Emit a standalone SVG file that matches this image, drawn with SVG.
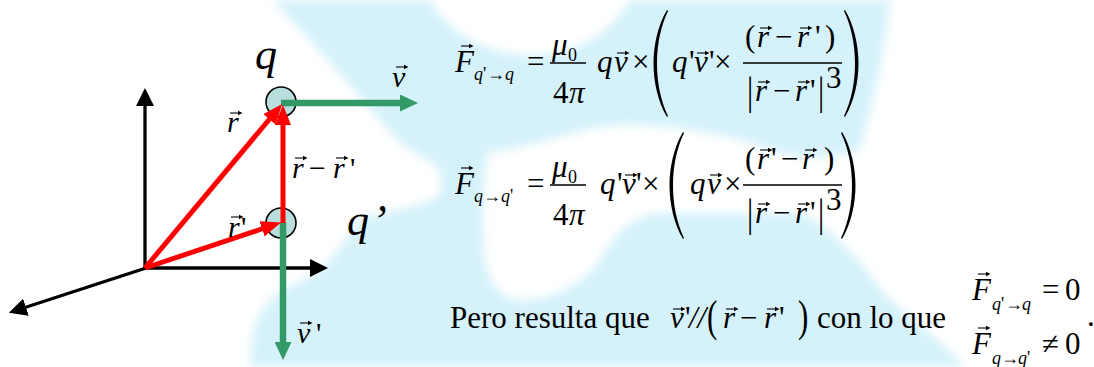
<svg xmlns="http://www.w3.org/2000/svg" width="1094" height="367" viewBox="0 0 1094 367" font-family="Liberation Serif, serif">
<defs>
<style>
.t{font-size:31px;fill:#000}
.i{font-style:italic}
.s{font-size:18px}
.lb{font-size:30px}
.big{font-size:44px}
.ax{stroke:#000;stroke-width:3.3;fill:none}
.rv{stroke:#ff0000;stroke-width:5;fill:none}
.gv{stroke:#339966;stroke-width:6.5;fill:none}
.bar{stroke:#000;stroke-width:1.4}
.chg{fill:#b9dede;stroke:#000;stroke-width:1.6}
.par{fill:#000}
.wm{fill:#d5f2fa}
</style>
<filter id="soft" x="-5%" y="-5%" width="110%" height="110%"><feGaussianBlur stdDeviation="5"/></filter>
<g id="vec"><path d="M0,0H9" stroke="#000" stroke-width="1.1"/><path d="M8,-2.3L12.5,0L8,2.3z" fill="#000"/></g>
<path id="lp" d="M14,0C5,15 0.5,35 0.5,53.5C0.5,72 5,92 14,107L15,106C7.5,90 4,72 4,53.5C4,35 7.5,17 15,1Z"/>
<path id="rp" d="M1,0C10,15 14.5,35 14.5,53.5C14.5,72 10,92 1,107L0,106C7.5,90 11,72 11,53.5C11,35 7.5,17 0,1Z"/>
<marker id="hb" viewBox="0 0 18 18" refX="1" refY="9" markerWidth="18" markerHeight="18" markerUnits="userSpaceOnUse" orient="auto"><path d="M0,0L18,9L0,18z" fill="#000"/></marker>
<marker id="hr" viewBox="0 0 20 16" refX="1" refY="8" markerWidth="20" markerHeight="16" markerUnits="userSpaceOnUse" orient="auto"><path d="M0,0L20,8L0,16z" fill="#ff0000"/></marker>
<marker id="hg" viewBox="0 0 18 17" refX="1" refY="8.5" markerWidth="18" markerHeight="17" markerUnits="userSpaceOnUse" orient="auto"><path d="M0,0L18,8.5L0,17z" fill="#339966"/></marker>
</defs>
<rect width="1094" height="367" fill="#fff"/>
<g id="watermark" filter="url(#soft)">
<path class="wm" d="M272,0L430,0C450,35 490,55 530,55C575,55 610,35 630,0L890,0C885,60 870,110 860,150C830,160 790,158 770,150C720,130 650,122 600,127C560,135 520,150 488,152C482,190 482,230 485,260C490,285 500,298 520,300C560,300 585,280 600,260C615,235 630,215 660,213L800,213C830,225 860,260 885,295C920,325 950,350 965,367L250,367C250,330 255,300 300,282C330,268 345,240 360,218C380,212 420,208 440,195C442,180 440,170 435,165C420,155 410,150 400,143C380,120 330,60 272,0Z"/>
</g>
<g id="connectors">
<line class="ax" x1="145" y1="268" x2="145" y2="105" marker-end="url(#hb)"/>
<line class="ax" x1="143" y1="268" x2="311" y2="268" marker-end="url(#hb)"/>
<line class="ax" x1="146" y1="268" x2="25" y2="307.5" marker-end="url(#hb)"/>
</g>
<g id="charge-q"><circle class="chg" cx="281" cy="102" r="15"/></g>
<g id="charge-qp"><circle class="chg" cx="281" cy="223" r="15"/></g>
<g id="vectors">
<line class="gv" x1="281" y1="103" x2="401" y2="103" marker-end="url(#hg)"/>
<line class="gv" x1="283" y1="222" x2="283" y2="343" marker-end="url(#hg)"/>
<line class="rv" x1="145" y1="268" x2="270" y2="118.5" marker-end="url(#hr)"/>
<line class="rv" x1="145" y1="268" x2="263" y2="228.5" marker-end="url(#hr)"/>
<line class="rv" x1="283" y1="223" x2="283" y2="124" marker-end="url(#hr)"/>
</g>
<g id="labels">
<text class="t i big" x="255" y="69">q</text>
<text class="t i big" x="347" y="235">q<tspan x="372">’</tspan></text>
<text class="t i lb" x="392" y="87">v</text><use href="#vec" x="396" y="67"/>
<text class="t i lb" x="227" y="132">r</text><use href="#vec" x="230" y="113"/>
<text class="t lb" y="178"><tspan class="i" x="292">r</tspan><tspan x="309">−</tspan><tspan class="i" x="333">r</tspan><tspan x="350">'</tspan></text>
<use href="#vec" x="295" y="158"/><use href="#vec" x="336" y="158"/>
<text class="t lb" y="237"><tspan class="i" x="228">r</tspan><tspan x="241">'</tspan></text><use href="#vec" x="231" y="217"/>
<text class="t lb" y="343"><tspan class="i" x="297">v</tspan><tspan x="316">'</tspan></text><use href="#vec" x="300" y="323"/>
</g>
<g id="eq1">
<text class="t i" x="455" y="72">F</text><use href="#vec" x="461" y="46"/>
<text class="t s" y="80"><tspan class="i" x="474">q</tspan><tspan x="483">'</tspan><tspan x="487">→</tspan><tspan class="i" x="505">q</tspan></text>
<text class="t" x="527" y="72">=</text>
<text class="t i" x="552" y="55">μ</text><text class="t s" x="568" y="61">0</text>
<line class="bar" x1="550" y1="63" x2="586" y2="63"/>
<text class="t" x="553" y="103">4</text><text class="t i" x="569" y="103">π</text>
<text class="t i" x="597" y="72">q</text><text class="t i" x="614" y="72">v</text><use href="#vec" x="617" y="53"/><text class="t" x="632" y="72">×</text>
<use href="#lp" class="par" x="653" y="10"/>
<text class="t" y="72"><tspan class="i" x="672">q</tspan><tspan x="689">'</tspan><tspan class="i" x="694">v</tspan><tspan x="709">'</tspan><tspan x="714">×</tspan></text><use href="#vec" x="697" y="53"/>
<line class="bar" x1="743" y1="63" x2="842" y2="63"/>
<text class="t" y="47"><tspan x="745">(</tspan><tspan class="i" x="757">r</tspan><tspan x="775">−</tspan><tspan class="i" x="797">r</tspan><tspan x="815">'</tspan><tspan x="825">)</tspan></text>
<use href="#vec" x="760" y="28"/><use href="#vec" x="800" y="28"/>
<text class="t" transform="translate(747,104) scale(1,1.3)">|</text>
<text class="t" y="101"><tspan class="i" x="755">r</tspan><tspan x="773">−</tspan><tspan class="i" x="795">r</tspan><tspan x="810">'</tspan></text>
<use href="#vec" x="758" y="82"/><use href="#vec" x="798" y="82"/>
<text class="t" transform="translate(818,104) scale(1,1.3)">|</text>
<text class="t" x="826" y="88" font-size="20">3</text>
<use href="#rp" class="par" x="844" y="10"/>
</g>
<g id="eq2">
<text class="t i" x="455" y="194">F</text><use href="#vec" x="461" y="168"/>
<text class="t s" y="202"><tspan class="i" x="474">q</tspan><tspan x="483">→</tspan><tspan class="i" x="501">q</tspan><tspan x="510">'</tspan></text>
<text class="t" x="527" y="194">=</text>
<text class="t i" x="552" y="177">μ</text><text class="t s" x="568" y="183">0</text>
<line class="bar" x1="550" y1="185" x2="586" y2="185"/>
<text class="t" x="553" y="225">4</text><text class="t i" x="569" y="225">π</text>
<text class="t" y="194"><tspan class="i" x="600">q</tspan><tspan x="617">'</tspan><tspan class="i" x="622">v</tspan><tspan x="636">'</tspan><tspan x="642">×</tspan></text><use href="#vec" x="625" y="175"/>
<use href="#lp" class="par" x="669" y="132"/>
<text class="t" y="194"><tspan class="i" x="690">q</tspan><tspan class="i" x="707">v</tspan><tspan x="724">×</tspan></text><use href="#vec" x="710" y="175"/>
<line class="bar" x1="743" y1="185" x2="842" y2="185"/>
<text class="t" y="169"><tspan x="745">(</tspan><tspan class="i" x="757">r</tspan><tspan x="771">'</tspan><tspan x="781">−</tspan><tspan class="i" x="802">r</tspan><tspan x="824">)</tspan></text>
<use href="#vec" x="760" y="150"/><use href="#vec" x="805" y="150"/>
<text class="t" transform="translate(747,226) scale(1,1.3)">|</text>
<text class="t" y="223"><tspan class="i" x="755">r</tspan><tspan x="773">−</tspan><tspan class="i" x="795">r</tspan><tspan x="810">'</tspan></text>
<use href="#vec" x="758" y="204"/><use href="#vec" x="798" y="204"/>
<text class="t" transform="translate(818,226) scale(1,1.3)">|</text>
<text class="t" x="826" y="210" font-size="20">3</text>
<use href="#rp" class="par" x="841" y="132"/>
</g>
<g id="conclusion">
<text class="t" x="450" y="328">Pero resulta que</text>
<text class="t" y="328"><tspan class="i" x="670">v</tspan><tspan x="685">'</tspan><tspan class="i" x="689">//</tspan></text><use href="#vec" x="673" y="309"/>
<text class="t" transform="translate(707,331) scale(1,1.43)">(</text>
<text class="t" y="328"><tspan class="i" x="723">r</tspan><tspan x="740">−</tspan><tspan class="i" x="764">r</tspan><tspan x="779">'</tspan></text>
<use href="#vec" x="726" y="309"/><use href="#vec" x="767" y="309"/>
<text class="t" transform="translate(798,331) scale(1,1.43)">)</text>
<text class="t" x="817" y="328">con lo que</text>
<text class="t i" x="972" y="300">F</text><use href="#vec" x="978" y="274"/>
<text class="t s" y="310"><tspan class="i" x="992">q</tspan><tspan x="1001">'</tspan><tspan x="1005">→</tspan><tspan class="i" x="1022">q</tspan></text>
<text class="t" x="1042" y="300">=</text><text class="t" x="1065" y="300">0</text>
<text class="t i" x="972" y="354">F</text><use href="#vec" x="978" y="328"/>
<text class="t s" y="364"><tspan class="i" x="992">q</tspan><tspan x="1001">→</tspan><tspan class="i" x="1018">q</tspan><tspan x="1027">'</tspan></text>
<text class="t" x="1042" y="354">≠</text><text class="t" x="1065" y="354">0</text>
<text class="t" x="1087" y="326">.</text>
</g>
</svg>
